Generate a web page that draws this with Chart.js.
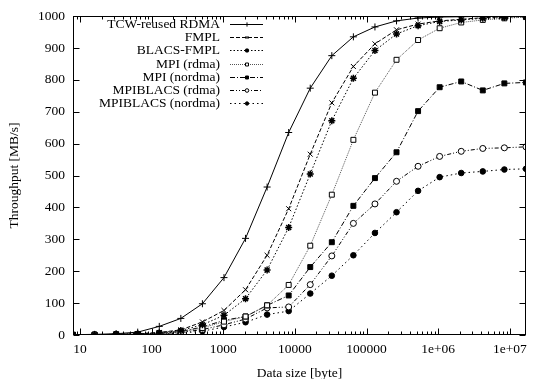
<!DOCTYPE html>
<html>
<head>
<meta charset="utf-8">
<script src="https://cdn.jsdelivr.net/npm/chart.js@4.4.1/dist/chart.umd.min.js"></script>
<style>
  html, body { margin: 0; padding: 0; background: #fff; }
</style>
</head>
<body>
<canvas id="chart" width="533" height="379"></canvas>
<script>
// message sizes in bytes (2^3 .. 2^24)
const sizes = [8, 16, 32, 64, 128, 256, 512, 1024, 2048, 4096, 8192, 16384, 32768, 65536,
  131072, 262144, 524288, 1048576, 2097152, 4194304, 8388608, 16777216];

// throughput in MB/s
const tcwRdma      = [1, 2, 4, 9, 27, 52, 98, 180, 303, 464, 635, 774, 876, 935, 966, 985, 994, 997, 998, 999, 999, 1000];
const fmpl         = [0.5, 1, 2, 4, 8, 16, 41, 77, 142, 250, 396, 567, 728, 842, 913, 957, 975, 985, 990, 995, 998, 999];
const blacsFmpl    = [0.5, 1, 2, 3.5, 7, 14, 32, 62, 114, 204, 337, 505, 672, 805, 892, 944, 970, 983, 988, 993, 996, 998];
const mpiRdma      = [0.5, 1, 2, 3, 5, 10, 22, 42, 58, 93, 157, 280, 440, 612, 760, 863, 925, 962, 980, 988, 993, 997];
const mpiNordma    = [0.5, 1, 2, 3, 5, 11, 25, 46, 58, 93, 124, 213, 291, 405, 492, 573, 702, 777, 795, 767, 789, 792];
const mpiblacsRdma = [0.5, 1, 2, 3, 4, 8, 17, 32, 50, 85, 88, 158, 248, 350, 411, 482, 529, 560, 576, 585, 587, 590];
const mpiblacsNordma = [0.3, 0.5, 1, 2, 3, 6, 12, 25, 40, 64, 75, 130, 186, 250, 320, 385, 452, 495, 508, 513, 519, 521];

const xTicks = [10, 100, 1000, 10000, 100000, 1000000, 10000000];
const xTickLabels = ['10', '100', '1000', '10000', '100000', '1e+06', '1e+07'];
const yTicks = [0, 100, 200, 300, 400, 500, 600, 700, 800, 900, 1000];

const serif = '"Liberation Serif", "Times New Roman", serif';
Chart.defaults.font.family = serif;
Chart.defaults.font.size = 13.5;
Chart.defaults.color = '#000';

function series(label, values, style) {
  return Object.assign({
    label: label,
    data: values.map((v, i) => ({ x: sizes[i], y: v })),
    borderColor: '#000',
    backgroundColor: '#000',
    pointBorderColor: '#000',
    borderWidth: 1,
    pointBorderWidth: 1,
    tension: 0
  }, style);
}

const datasets = [
  series('TCW-reused RDMA', tcwRdma, { pointStyle: 'cross', pointRadius: 3.5 }),
  series('FMPL', fmpl, { pointStyle: 'crossRot', pointRadius: 3.5, borderDash: [4, 2] }),
  series('BLACS-FMPL', blacsFmpl, { pointStyle: 'star', pointRadius: 3.5, pointBorderWidth: 1.5, borderDash: [1.5, 2] }),
  series('MPI (rdma)', mpiRdma, { pointStyle: 'rect', pointRadius: 3.5, backgroundColor: '#fff', borderColor: '#555', pointBackgroundColor: '#fff', borderDash: [1, 1] }),
  series('MPI (nordma)', mpiNordma, { pointStyle: 'rect', pointRadius: 3.5, borderDash: [5, 2, 1, 2] }),
  series('MPIBLACS (rdma)', mpiblacsRdma, { pointStyle: 'circle', pointRadius: 3, backgroundColor: '#fff', pointBackgroundColor: '#fff', borderDash: [4, 2, 1, 2, 1, 2] }),
  series('MPIBLACS (nordma)', mpiblacsNordma, { pointStyle: 'circle', pointRadius: 2.8, borderDash: [1.5, 3] })
];

function marker(ctx, ds, x, y, r) {
  ctx.save();
  ctx.setLineDash([]);
  ctx.lineWidth = ds.pointBorderWidth || 1;
  ctx.strokeStyle = '#000';
  ctx.fillStyle = ds.pointBackgroundColor || ds.backgroundColor;
  ctx.beginPath();
  if (ds.pointStyle === 'circle') {
    ctx.arc(x, y, r, 0, Math.PI * 2);
    ctx.fill(); ctx.stroke();
  } else if (ds.pointStyle === 'rect') {
    const s = r * Math.SQRT2;
    ctx.rect(x - s / 2, y - s / 2, s, s);
    ctx.fill(); ctx.stroke();
  } else {
    if (ds.pointStyle !== 'crossRot') {
      ctx.moveTo(x - r, y); ctx.lineTo(x + r, y);
      ctx.moveTo(x, y - r); ctx.lineTo(x, y + r);
    }
    if (ds.pointStyle !== 'cross') {
      const d = r * 0.7071;
      ctx.moveTo(x - d, y - d); ctx.lineTo(x + d, y + d);
      ctx.moveTo(x - d, y + d); ctx.lineTo(x + d, y - d);
    }
    ctx.stroke();
  }
  ctx.restore();
}

// gnuplot style box, inward ticks and legend
const framePlugin = {
  id: 'frame',
  afterDatasetsDraw(chart) {
    const { ctx, chartArea: a, scales: { x, y } } = chart;
    const L = Math.round(a.left) + 0.5, R = Math.round(a.right) - 0.5;
    const T = Math.round(a.top) + 0.5, B = Math.round(a.bottom) - 0.5;
    ctx.save();
    ctx.strokeStyle = '#000';
    ctx.lineWidth = 1;
    ctx.setLineDash([]);
    ctx.strokeRect(L, T, R - L, B - T);
    ctx.beginPath();
    yTicks.forEach(v => {
      const py = Math.round(y.getPixelForValue(v)) + 0.5;
      ctx.moveTo(L, py); ctx.lineTo(L + 6, py);
      ctx.moveTo(R, py); ctx.lineTo(R - 6, py);
    });
    for (let d = 1; d <= 1e7; d *= 10) {
      for (let m = 1; m <= 9; m++) {
        const v = d * m;
        if (v < 8 || v > 16777216) continue;
        const len = m === 1 ? 6 : 3;
        const px = Math.round(x.getPixelForValue(v)) + 0.5;
        ctx.moveTo(px, B); ctx.lineTo(px, B - len);
        ctx.moveTo(px, T); ctx.lineTo(px, T + len);
      }
    }
    ctx.stroke();

    // legend
    ctx.font = '13.5px ' + serif;
    ctx.fillStyle = '#000';
    ctx.textAlign = 'right';
    ctx.textBaseline = 'middle';
    chart.data.datasets.forEach((ds, i) => {
      const ly = Math.round(24 + i * 13.2) + 0.5;
      ctx.fillText(ds.label, 220, ly);
      ctx.save();
      ctx.strokeStyle = ds.borderColor;
      ctx.setLineDash(ds.borderDash || []);
      ctx.beginPath();
      ctx.moveTo(230, ly);
      ctx.lineTo(263, ly);
      ctx.stroke();
      ctx.restore();
      marker(ctx, ds, 247, ly, ds.pointRadius * 0.6);
    });
    ctx.restore();
  }
};

new Chart(document.getElementById('chart'), {
  type: 'line',
  data: { datasets: datasets },
  options: {
    responsive: false,
    animation: false,
    layout: { padding: { top: 12, right: 7, left: 0, bottom: 0 } },
    plugins: { legend: { display: false }, tooltip: { enabled: false } },
    scales: {
      x: {
        type: 'logarithmic',
        min: 8, max: 16777216,
        grid: { display: false, drawTicks: false },
        border: { display: false },
        afterBuildTicks: s => { s.ticks = xTicks.map(v => ({ value: v })); },
        afterFit: s => { s.height = 44; },
        ticks: {
          autoSkip: false, maxRotation: 0, padding: 6,
          callback: (v, i) => xTickLabels[i]
        },
        title: { display: true, text: 'Data size [byte]', padding: { top: -3, bottom: -3 } }
      },
      y: {
        min: 0, max: 1000,
        grid: { display: false, drawTicks: false },
        border: { display: false },
        afterBuildTicks: s => { s.ticks = yTicks.map(v => ({ value: v })); },
        afterFit: s => { s.width = 73; },
        ticks: { padding: 8, callback: v => String(v) },
        title: { display: true, text: 'Throughput [MB/s]', padding: { top: 6, bottom: 0 } }
      }
    }
  },
  plugins: [framePlugin]
});
</script>
</body>
</html>
